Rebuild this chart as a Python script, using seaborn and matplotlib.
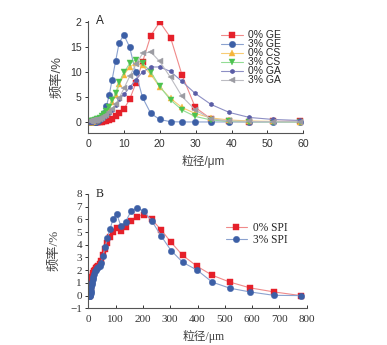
import matplotlib
matplotlib.use("Agg")
import matplotlib.pyplot as plt
import seaborn as sns

sns.set_style("ticks")
plt.rcParams["font.family"] = ["Liberation Sans", "Noto Sans CJK SC"]
plt.rcParams["axes.unicode_minus"] = True

# ---- Panel A: particle size distribution of the gel samples ----
size_a = [0.5, 0.6, 0.7, 0.8, 0.9, 1.0, 1.2, 1.3, 1.5, 1.7, 2.0, 2.3, 2.6, 2.9,
          3.4, 3.9, 4.5, 5.1, 5.9, 6.7, 7.7, 8.7, 10.0, 11.6, 13.3, 15.2, 17.5,
          20.0, 23.0, 26.2, 29.9, 34.3, 39.4, 45.0, 51.6, 59.0]
ge_0 = [0, 0, 0, 0, 0, 0, 0, 0, 0, 0.01, 0.01, 0.02, 0.02, 0.03, 0.05, 0.08,
        0.12, 0.2, 0.35, 0.6, 1.1, 1.7, 2.6, 4.5, 7.7, 12.0, 17.3, 20.0, 16.9,
        9.4, 2.9, 0.6, 0.1, 0.05, 0.1, 0.2]
ge_3 = [0, 0, 0, 0, 0, 0, 0, 0, 0.01, 0.02, 0.04, 0.07, 0.12, 0.25, 0.5, 0.9,
        1.7, 3.1, 5.3, 8.4, 12.2, 15.9, 17.4, 15.0, 9.9, 4.9, 1.7, 0.5, 0.05,
        0, 0, 0, 0, 0, 0, 0]
cs_0 = [0.04, 0.04, 0.05, 0.06, 0.07, 0.08, 0.1, 0.12, 0.15, 0.2, 0.26, 0.33,
        0.42, 0.55, 0.75, 1.0, 1.4, 1.9, 2.7, 3.9, 5.3, 7.5, 9.4, 11.0, 11.8,
        11.3, 9.5, 7.0, 4.7, 2.9, 1.7, 0.8, 0.4, 0.2, 0.1, 0.05]
cs_3 = [0.05, 0.05, 0.06, 0.07, 0.08, 0.1, 0.12, 0.15, 0.2, 0.25, 0.32, 0.4,
        0.5, 0.65, 0.85, 1.1, 1.6, 2.2, 3.0, 4.3, 5.8, 7.9, 9.9, 11.7, 12.4,
        11.8, 10.0, 7.1, 4.4, 2.4, 1.1, 0.4, 0.1, 0.05, 0.02, 0.0]
ga_0 = [0.05, 0.05, 0.05, 0.06, 0.06, 0.07, 0.08, 0.1, 0.12, 0.15, 0.2, 0.25,
        0.3, 0.4, 0.5, 0.65, 0.9, 1.2, 1.7, 2.4, 3.4, 4.5, 5.5, 6.9, 8.4, 10.0,
        11.0, 11.0, 10.1, 8.1, 5.7, 3.5, 1.9, 0.9, 0.5, 0.3]
ga_3 = [0.25, 0.25, 0.25, 0.25, 0.25, 0.26, 0.27, 0.28, 0.3, 0.32, 0.35, 0.4,
        0.45, 0.5, 0.65, 0.8, 1.1, 1.4, 1.9, 2.6, 3.6, 4.8, 6.7, 9.1, 11.5,
        13.7, 14.0, 12.1, 8.9, 5.1, 2.4, 0.6, 0.2, 0.1, 0.05, 0.05]
labels_a = ["0% GE", "3% GE", "0% CS", "3% CS", "0% GA", "3% GA"]
xticks_a = [0, 10, 20, 30, 40, 50, 60]
yticks_a = [0, 5, 10, 15, 20]
yticklabels_a = ["0", "5", "10", "15", "2"]

# ---- Panel B: soy protein isolate ----
size_b = [2.0, 4.0, 5.0, 6.3, 7.2, 8.2, 9.4, 10.7, 12.3, 14.0, 16.0, 18.4, 21.0,
          24.0, 27.5, 31.5, 36.0, 41.0, 47.0, 53.5, 61.0, 70.0, 80.0, 91.0,
          104.0, 120.0, 137.0, 156.0, 178.0, 204.0, 232.0, 266.0, 303.0, 346.0,
          399.0, 454.0, 519.0, 592.0, 680.0, 778.0]
spi_0 = [0, 0, 0.05, 0.2, 0.4, 0.6, 0.9, 1.1, 1.3, 1.5, 1.65, 1.8, 1.95, 2.05,
         2.15, 2.25, 2.35, 2.5, 2.75, 3.2, 3.65, 4.15, 4.6, 5.0, 5.3, 5.05, 5.4,
         5.85, 6.2, 6.38, 6.0, 5.2, 4.2, 3.16, 2.3, 1.6, 1.06, 0.61, 0.29, 0.0]
spi_3 = [0, 0, 0, 0.02, 0.1, 0.2, 0.4, 0.7, 0.9, 1.1, 1.3, 1.5, 1.7, 1.9, 2.0,
         2.15, 2.25, 2.35, 2.6, 3.1, 3.8, 4.55, 5.27, 6.05, 6.41, 5.45, 5.83,
         6.63, 6.92, 6.63, 5.9, 4.72, 3.55, 2.62, 2.0, 1.06, 0.58, 0.29, 0.02, 0.0]
labels_b = ["0% SPI", "3% SPI"]
xticks_b = [0, 100, 200, 300, 400, 500, 600, 700, 800]
yticks_b = [-1, 0, 1, 2, 3, 4, 5, 6, 7, 8]

RED, RED_LINE = "#e5202a", "#f08a8a"
BLUE, BLUE_LINE = "#3c5fa6", "#8ba2cf"
ORANGE, ORANGE_LINE = "#f5b53a", "#f8cc75"
GREEN, GREEN_LINE = "#4cc24f", "#93dc95"
PURPLE, PURPLE_LINE = "#5a5da6", "#8d8fc4"
GRAY, GRAY_LINE = "#9b9ba2", "#bcbcc2"

fig = plt.figure(figsize=(3.87, 3.45), dpi=100)
ax1 = fig.add_axes([0.2274, 0.6136, 0.5563, 0.3255])
ax2 = fig.add_axes([0.2282, 0.1064, 0.5643, 0.3313])

series_a = [
    (ge_0, RED, RED_LINE, "s", 5.0),
    (ge_3, BLUE, BLUE_LINE, "o", 4.6),
    (cs_0, ORANGE, ORANGE_LINE, "^", 4.2),
    (cs_3, GREEN, GREEN_LINE, "v", 4.2),
    (ga_0, PURPLE, PURPLE_LINE, "h", 3.4),
    (ga_3, GRAY, GRAY_LINE, "<", 4.0),
]
for (vals, mc, lc, m, ms), lab in zip(series_a, labels_a):
    sns.lineplot(x=size_a, y=vals, ax=ax1, color=lc, linewidth=0.8,
                 marker=m, markersize=ms, markerfacecolor=mc,
                 markeredgecolor=mc, markeredgewidth=0.3, label=lab,
                 errorbar=None, sort=False)

ax1.set_xlim(0, 60)
ax1.set_ylim(-2.27, 20.2)
ax1.set_xticks(xticks_a)
ax1.set_yticks(yticks_a)
ax1.set_yticklabels(yticklabels_a)
ax1.tick_params(axis="x", direction="in", length=2.5, width=0.7, pad=4,
                labelsize=7.6, colors="#333333")
ax1.tick_params(axis="y", direction="out", length=2.5, width=0.7, pad=2,
                labelsize=7.6, colors="#333333")
for s in ("top", "right"):
    ax1.spines[s].set_visible(False)
for s in ("left", "bottom"):
    ax1.spines[s].set_linewidth(0.8)
    ax1.spines[s].set_color("#555555")
ax1.set_xlabel("粒径/μm", fontsize=8.5, color="#444444")
ax1.xaxis.set_label_coords(0.535, -0.19)
ax1.set_ylabel("频率/%", fontsize=9.5, color="#444444")
ax1.yaxis.set_label_coords(-0.115, 0.5)
ax1.text(0.035, 1.0, "A", transform=ax1.transAxes, fontsize=8.5,
         ha="left", va="center", color="#222222")
ax1.legend(loc="upper left", bbox_to_anchor=(0.571, 0.912),
           bbox_transform=fig.transFigure, frameon=False, fontsize=7.5,
           handlelength=2.1, handletextpad=0.5, labelspacing=-0.1,
           borderpad=0, borderaxespad=0)

# ---- Panel B drawing ----
serif = ["Liberation Serif", "Noto Sans CJK SC"]
series_b = [
    (spi_0, RED, RED_LINE, "s", 5.0),
    (spi_3, BLUE, BLUE_LINE, "o", 4.6),
]
for (vals, mc, lc, m, ms), lab in zip(series_b, labels_b):
    sns.lineplot(x=size_b, y=vals, ax=ax2, color=lc, linewidth=0.8,
                 marker=m, markersize=ms, markerfacecolor=mc,
                 markeredgecolor=mc, markeredgewidth=0.3, label=lab,
                 errorbar=None, sort=False)

ax2.set_xlim(0, 800)
ax2.set_ylim(-1, 8)
ax2.set_xticks(xticks_b)
ax2.set_yticks(yticks_b)
ax2.tick_params(axis="x", direction="in", length=2.5, width=0.7, pad=5,
                labelsize=8, colors="#333333")
ax2.tick_params(axis="y", direction="out", length=2.5, width=0.7, pad=2,
                labelsize=8, colors="#333333")
for lab in ax2.get_xticklabels() + ax2.get_yticklabels():
    lab.set_family(serif)
for s in ("top", "right"):
    ax2.spines[s].set_visible(False)
for s in ("left", "bottom"):
    ax2.spines[s].set_linewidth(0.8)
    ax2.spines[s].set_color("#555555")
ax2.set_xlabel("粒径/μm", fontsize=8.5, color="#444444", family=serif)
ax2.xaxis.set_label_coords(0.53, -0.19)
ax2.set_ylabel("频率/%", fontsize=9.5, color="#444444", family=serif)
ax2.yaxis.set_label_coords(-0.13, 0.51)
ax2.text(0.035, 1.0, "B", transform=ax2.transAxes, fontsize=8.5,
         ha="left", va="center", color="#222222", family=serif)
ax2.legend(loc="upper left", bbox_to_anchor=(0.583, 0.357),
           bbox_transform=fig.transFigure, frameon=False,
           prop={"family": serif, "size": 8.3},
           handlelength=1.85, handletextpad=0.5, labelspacing=0.0,
           borderpad=0, borderaxespad=0)

fig.savefig("out.png", dpi=100)
